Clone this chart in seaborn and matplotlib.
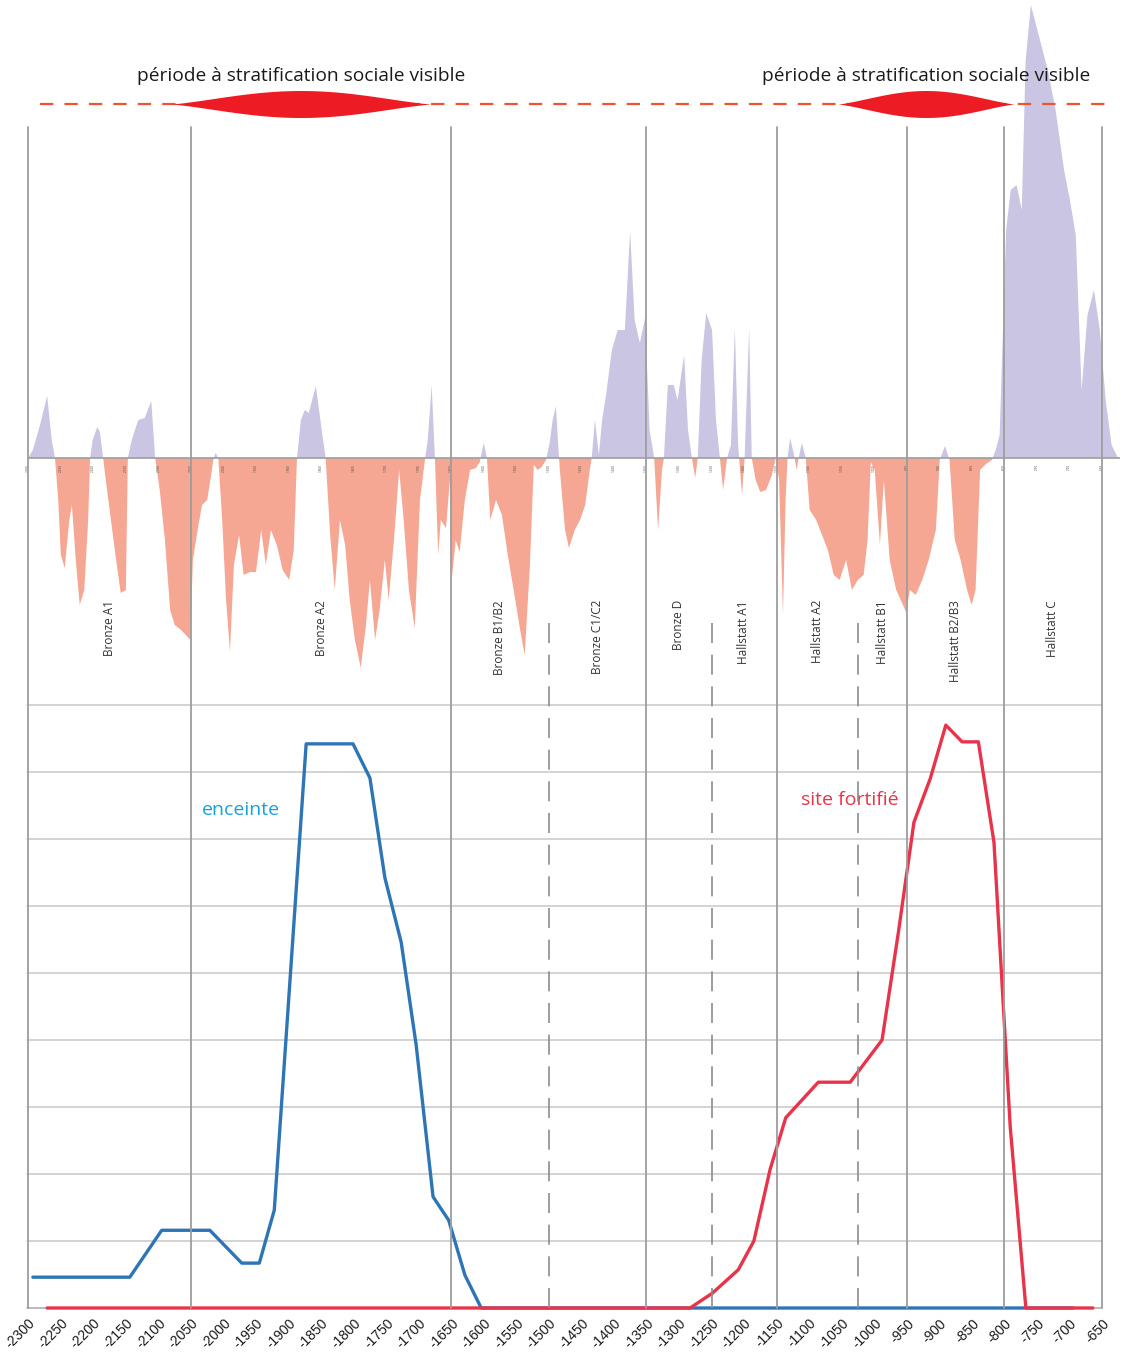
import matplotlib
matplotlib.use("Agg")
import numpy as np
import pandas as pd
import matplotlib.pyplot as plt
import seaborn as sns

# --- Indice (partie haute) : années et valeurs -----------------------------
indice_annees = [
    -2300, -2293, -2282, -2271, -2264, -2259, -2254, -2250, -2244, -2237, -2233, -2227,
    -2221, -2214, -2208, -2205, -2201, -2194, -2190, -2185, -2179, -2173, -2165, -2158,
    -2150, -2147, -2141, -2131, -2121, -2111, -2105, -2098, -2090, -2082, -2075, -2065,
    -2058, -2051, -2047, -2041, -2033, -2025, -2019, -2015, -2012, -2008, -2002, -1996,
    -1990, -1984, -1976, -1969, -1959, -1950, -1942, -1935, -1927, -1918, -1909, -1899,
    -1892, -1887, -1881, -1875, -1869, -1858, -1849, -1843, -1836, -1829, -1821, -1813,
    -1806, -1798, -1789, -1781, -1775, -1767, -1760, -1752, -1746, -1738, -1730, -1723,
    -1715, -1706, -1698, -1690, -1686, -1680, -1675, -1670, -1666, -1658, -1652, -1649,
    -1643, -1637, -1629, -1621, -1612, -1606, -1600, -1595, -1590, -1581, -1572, -1563,
    -1554, -1544, -1537, -1529, -1523, -1517, -1511, -1504, -1498, -1494, -1489, -1486,
    -1483, -1475, -1469, -1460, -1452, -1444, -1437, -1434, -1429, -1423, -1418, -1412,
    -1403, -1394, -1383, -1375, -1368, -1360, -1352, -1345, -1338, -1332, -1326, -1323,
    -1317, -1308, -1302, -1292, -1286, -1280, -1275, -1271, -1265, -1258, -1249, -1243,
    -1237, -1232, -1226, -1220, -1214, -1209, -1203, -1199, -1192, -1188, -1182, -1175,
    -1166, -1157, -1151, -1146, -1140, -1136, -1133, -1129, -1123, -1119, -1116, -1111,
    -1105, -1099, -1089, -1080, -1071, -1062, -1053, -1043, -1034, -1025, -1016, -1010,
    -1005, -999, -991, -985, -976, -966, -959, -951, -945, -936, -926, -916,
    -905, -899, -891, -884, -876, -867, -857, -850, -844, -837, -828, -819,
    -813, -807, -797, -790, -781, -773, -767, -759, -745, -733, -721, -708,
    -699, -690, -681, -672, -662, -653, -644, -635, -625,
]
indice_valeurs = [
    0, 0.8, 3.3, 6.2, 1.8, 0, -4.2, -9.7, -11.0, -6.2, -4.7, -10.2,
    -14.7, -13.2, -6.2, 0, 1.8, 3.1, 2.6, 0, -3.2, -6.2, -10.2, -13.5,
    -13.2, 0, 1.8, 3.8, 4.0, 5.7, 0, -3.2, -8.2, -15.2, -16.7, -17.2,
    -17.7, -18.2, -10.2, -7.7, -4.7, -4.2, -1.7, 0, 0.5, 0, -6.2, -14.2,
    -19.4, -10.7, -7.7, -11.7, -11.4, -11.4, -7.2, -10.7, -7.2, -8.7, -11.2, -12.2,
    -9.2, 0, 3.8, 4.8, 4.5, 7.2, 2.8, 0, -7.7, -13.2, -6.2, -8.7,
    -14.2, -18.2, -21.0, -16.7, -12.2, -18.2, -15.2, -10.2, -14.2, -8.2, -1.2, -6.2,
    -13.2, -17.0, -4.2, 0, 1.8, 7.3, 0, -9.7, -6.2, -7.0, -2.2, -12.0,
    -8.2, -9.4, -4.2, -1.2, -1.0, -0.4, 1.5, 0, -6.2, -4.2, -5.7, -9.7,
    -13.2, -17.2, -19.7, -10.7, -0.7, -1.2, -0.9, -0.2, 1.8, 3.8, 5.2, 1.8,
    -1.2, -7.2, -9.0, -7.2, -6.2, -4.7, -1.2, 0, 3.8, 0.3, 3.8, 6.3,
    10.8, 12.8, 12.8, 22.7, 13.8, 11.5, 14.0, 2.8, 0, -7.2, -1.2, 0,
    7.3, 7.3, 5.8, 10.3, 2.8, 0, -2.0, 0, 9.8, 14.5, 12.8, 3.8,
    0, -3.2, 0, 1.3, 13.0, 1.3, -3.7, 0, 13.0, 0, -2.2, -3.4,
    -3.2, -1.7, 0, -2.2, -15.7, -4.2, 0, 2.0, 0.3, -1.2, 0, 1.5,
    0, -5.2, -6.2, -7.7, -9.2, -11.7, -12.2, -10.2, -13.2, -12.2, -11.7, -8.2,
    -0.4, -1.2, -8.7, -2.2, -10.2, -13.2, -14.2, -15.4, -13.2, -13.7, -12.2, -10.2,
    -7.2, -0.2, 1.2, -0.2, -8.2, -10.2, -13.2, -14.7, -13.2, -1.2, -0.6, -0.2,
    0.8, 2.3, 22.8, 26.8, 27.3, 24.8, 39.8, 45.3, 41.8, 38.8, 34.8, 28.8,
    25.8, 22.3, 6.8, 14.3, 16.8, 12.8, 5.8, 1.3, 0,
]

# --- Courbes (partie basse) ---------------------------------------------
enceinte_annees = [-2293, -2144, -2095, -2021, -1972, -1945, -1922, -1873, -1801,
                   -1775, -1752, -1727, -1704, -1678, -1654, -1629, -1604, -695]
enceinte_valeurs = [0.46, 0.46, 1.16, 1.16, 0.67, 0.67, 1.46, 8.42, 8.42,
                    7.91, 6.42, 5.46, 3.93, 1.66, 1.31, 0.49, 0, 0]

fortifie_annees = [-2271, -1283, -1249, -1209, -1185, -1160, -1136, -1086, -1037,
                   -988, -963, -939, -914, -890, -865, -840, -816, -791, -767, -664]
fortifie_valeurs = [0, 0, 0.22, 0.57, 1.0, 2.07, 2.84, 3.37, 3.37,
                    4.0, 5.6, 7.25, 7.9, 8.7, 8.45, 8.45, 6.95, 2.7, 0, 0]

# --- Chronologie -----------------------------------------------------------
phases = ["Bronze A1", "Bronze A2", "Bronze B1/B2", "Bronze C1/C2", "Bronze D",
          "Hallstatt A1", "Hallstatt A2", "Hallstatt B1", "Hallstatt B2/B3", "Hallstatt C"]
limites = [-2300, -2050, -1650, -1500, -1350, -1250, -1150, -1025, -950, -800, -650]
limites_pointillees = [-1500, -1250, -1025]

stratification_debut = [-2082, -1056]
stratification_fin = [-1680, -784]
stratification_texte = "période à stratification sociale visible"

annees_axe = list(range(-2300, -649, 50))

# --- Mise en page -------------------------------------------------------------
sns.set_theme(style="white")
plt.rcParams["font.family"] = ["Open Sans", "DejaVu Sans"]

W, H = 1141, 1357
fig = plt.figure(figsize=(W / 100, H / 100), dpi=100)
fig.patch.set_facecolor("white")

ax_top = fig.add_axes([27 / W, (H - 705) / H, 1093 / W, 705 / H])
ax = fig.add_axes([27 / W, (H - 1308) / H, 1075 / W, 603 / H])

VIOLET = "#c9c5e2"
SAUMON = "#f5a793"
GRIS = "#9d9d9d"

# Partie haute : indice en aires positives / négatives
x = np.array(indice_annees, dtype=float)
v = np.array(indice_valeurs, dtype=float)
ax_top.fill_between(x, v, 0, where=v >= 0, interpolate=True, color=VIOLET, lw=0, zorder=2)
ax_top.fill_between(x, v, 0, where=v <= 0, interpolate=True, color=SAUMON, lw=0, zorder=2)
ax_top.plot([-2302, -622], [0, 0], color=GRIS, lw=1.2, zorder=3)
for yr in annees_axe:
    ax_top.text(yr, -0.6, str(yr), rotation=90, fontsize=2.2, color="#444444",
                ha="center", va="top", zorder=4)

ax_top.set_xlim(-2302, -622)
ax_top.set_ylim(-24.7, 45.8)
ax_top.axis("off")

# Noms des phases
for name, a, b in zip(phases, limites[:-1], limites[1:]):
    ax_top.text((a + b) / 2, -14.2, name, rotation=90, ha="center", va="top",
                fontsize=8.5, color="#333333", zorder=4)

# Bandeau des périodes à stratification sociale
y_band = 35.4
ax_top.plot([-2282, -645], [y_band, y_band], color="#f0532d", lw=1.6,
            dashes=(6, 5), zorder=5)
t = np.linspace(-1, 1, 400)
for a, b in zip(stratification_debut, stratification_fin):
    c, half = (a + b) / 2, (b - a) / 2
    h = 1.35 * (0.5 * (1 + np.cos(np.pi * t))) ** 0.65
    ax_top.fill_between(c + t * half, y_band - h, y_band + h, color="#ed1c24", lw=0, zorder=6)
    ax_top.text(c, 38.2, stratification_texte, ha="center", va="center",
                fontsize=13.8, color="#1a1a1a", zorder=7)

# Partie basse : courbes
df_enc = pd.DataFrame({"annee": enceinte_annees, "valeur": enceinte_valeurs})
df_fort = pd.DataFrame({"annee": fortifie_annees, "valeur": fortifie_valeurs})

for yv in range(0, 10):
    ax.axhline(yv, color="#a8a8a8" if yv == 0 else "#c8c8c8", lw=1.1, clip_on=False, zorder=1)

sns.lineplot(data=df_enc, x="annee", y="valeur", ax=ax, color="#2e75b6",
             linewidth=2.4, legend=False, zorder=4, estimator=None)
sns.lineplot(data=df_fort, x="annee", y="valeur", ax=ax, color="#e8334a",
             linewidth=2.4, legend=False, zorder=5, estimator=None)
for line in ax.get_lines():
    line.set_clip_on(False)

ax.text(-1973, 7.43, "enceinte", color="#19a0dc", fontsize=14, ha="center", va="center")
ax.text(-1037, 7.58, "site fortifié", color="#e8334a", fontsize=14, ha="center", va="center")

ax.set_xlim(-2302, -650)
ax.set_ylim(0, 9)
ax.set_xticks(annees_axe)
ax.set_xticklabels([str(a) for a in annees_axe])
ax.set_yticks([])
ax.set_xlabel("")
ax.set_ylabel("")
ax.tick_params(axis="x", length=0, pad=6, labelsize=10, labelcolor="#1a1a1a")
plt.setp(ax.get_xticklabels(), rotation=45, ha="right", rotation_mode="anchor",
         family=["Liberation Sans", "DejaVu Sans"])
for s in ax.spines.values():
    s.set_visible(False)
ax.patch.set_alpha(0)

# Limites chronologiques, traversant les deux parties
top_full = (1308 - 127) / 603
top_dash = (1308 - 620) / 603
for yr in limites:
    if yr in limites_pointillees:
        ax.axvline(yr, ymin=0, ymax=top_dash, color="#8c8c8c", lw=1.2,
                   linestyle=(0, (12, 7)), clip_on=False, zorder=6)
    else:
        ax.axvline(yr, ymin=0, ymax=top_full, color=GRIS, lw=1.3,
                   clip_on=False, zorder=6)

fig.savefig("out.png", dpi=100)
